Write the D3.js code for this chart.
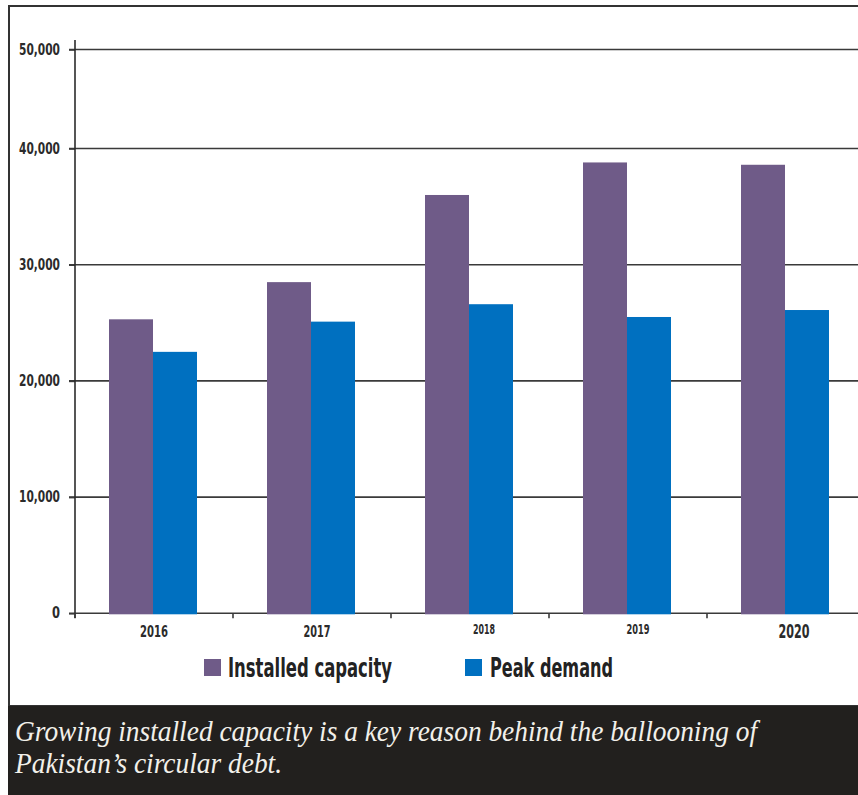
<!DOCTYPE html>
<html>
<head>
<meta charset="utf-8">
<script src="https://cdn.jsdelivr.net/npm/d3@7"></script>
<style>
  html, body { margin: 0; padding: 0; background: #ffffff; }
  svg { display: block; }
</style>
</head>
<body>
<svg id="chart" width="858" height="795"></svg>
<script>
// ---- data ----
const years = ["2016", "2017", "2018", "2019", "2020"];
const seriesNames = ["Installed capacity", "Peak demand"];
const installedCapacity = [25300, 28500, 36000, 38800, 38600];
const peakDemand = [22500, 25100, 26600, 25500, 26100];
const yTicks = [0, 10000, 20000, 30000, 40000, 50000];
const captionLines = [
  "Growing installed capacity is a key reason behind the ballooning of",
  "Pakistan\u2019s circular debt."
];

// ---- styles (kept apart from data) ----
const colors = { "Installed capacity": "#6f5b88", "Peak demand": "#0070c0" };
const yearLabelStyle = {
  "2016": { size: 16.5, dx: 0, w: 28 },
  "2017": { size: 16.5, dx: 5, w: 27 },
  "2018": { size: 13.5, dx: 14, w: 22 },
  "2019": { size: 13.5, dx: 10, w: 23 },
  "2020": { size: 19, dx: 8, w: 31 }
};
const condFont = "'DejaVu Sans Condensed', 'DejaVu Sans', sans-serif";

const svg = d3.select("#chart");

// frame
svg.append("rect").attr("x", 9).attr("y", 6).attr("width", 860).attr("height", 700)
  .attr("fill", "#fff").attr("stroke", "#333").attr("stroke-width", 2);

// scales
const x0 = d3.scaleBand().domain(years).range([75, 865]).padding(0);
const x1 = d3.scaleBand().domain(seriesNames).range([34, 122]).padding(0);
const y = d3.scaleLinear().domain([0, 40000, 50000]).range([613.3, 148.5, 49.5]);

// gridlines
const grid = svg.append("g");
grid.selectAll("line").data(yTicks).join("line")
  .attr("x1", 69).attr("x2", 858)
  .attr("y1", d => y(d)).attr("y2", d => y(d))
  .attr("stroke", "#3a3a3a").attr("stroke-width", 1.6);

// y axis
const yAxis = svg.append("g").attr("transform", "translate(75,0)")
  .call(d3.axisLeft(y).tickValues(yTicks).tickFormat(d3.format(",")).tickSize(6).tickPadding(9));
yAxis.select(".domain").remove();
yAxis.selectAll(".tick line").attr("stroke", "#3a3a3a").attr("stroke-width", 1.6);
yAxis.selectAll(".tick text")
  .attr("font-family", condFont).attr("font-weight", "bold").attr("font-size", 15)
  .attr("fill", "#2b2b2b").attr("dy", "0.3em")
  .each(function(d) {
    const t = d3.select(this);
    t.attr("textLength", d === 0 ? 8 : 41).attr("lengthAdjust", "spacingAndGlyphs");
  });
svg.append("line").attr("x1", 75).attr("x2", 75).attr("y1", 40).attr("y2", 618)
  .attr("stroke", "#2b2b2b").attr("stroke-width", 1.6);

// x axis ticks (band boundaries)
svg.append("g").selectAll("line").data(years).join("line")
  .attr("x1", d => x0(d)).attr("x2", d => x0(d))
  .attr("y1", y(0)).attr("y2", y(0) + 5)
  .attr("stroke", "#3a3a3a").attr("stroke-width", 1.6);

// bars
const groups = svg.append("g").selectAll("g").data(years).join("g")
  .attr("transform", d => `translate(${x0(d)},0)`);
groups.selectAll("rect")
  .data((d, i) => [
    { key: seriesNames[0], value: installedCapacity[i] },
    { key: seriesNames[1], value: peakDemand[i] }
  ])
  .join("rect")
  .attr("x", d => x1(d.key))
  .attr("width", x1.bandwidth())
  .attr("y", d => y(d.value))
  .attr("height", d => y(0) - y(d.value) + 1)
  .attr("fill", d => colors[d.key]);

// x labels
const xAxis = svg.append("g").attr("transform", `translate(0,${y(0)})`)
  .call(d3.axisBottom(x0).tickSize(0).tickPadding(0));
xAxis.select(".domain").remove();
xAxis.selectAll(".tick text")
  .attr("font-family", condFont).attr("font-weight", "bold")
  .attr("font-size", d => yearLabelStyle[d].size)
  .attr("fill", "#2b2b2b")
  .attr("dy", null)
  .attr("y", d => d === "2020" ? 25 : (yearLabelStyle[d].size > 15 ? 24 : 21))
  .attr("x", d => yearLabelStyle[d].dx)
  .attr("textLength", d => yearLabelStyle[d].w)
  .attr("lengthAdjust", "spacingAndGlyphs");

// legend
const legendItems = [
  { key: seriesNames[0], sx: 204, tx: 228, w: 164 },
  { key: seriesNames[1], sx: 465, tx: 490, w: 123 }
];
const legend = svg.append("g").selectAll("g").data(legendItems).join("g");
legend.append("rect").attr("x", d => d.sx).attr("y", 659).attr("width", 17).attr("height", 17)
  .attr("fill", d => colors[d.key]);
legend.append("text").attr("x", d => d.tx).attr("y", 677)
  .attr("font-family", condFont).attr("font-weight", "bold").attr("font-size", 27)
  .attr("fill", "#222").attr("textLength", d => d.w).attr("lengthAdjust", "spacingAndGlyphs")
  .text(d => d.key);

// caption
svg.append("rect").attr("x", 8).attr("y", 706).attr("width", 850).attr("height", 89).attr("fill", "#22201e");
const cap = svg.append("g").selectAll("text").data(captionLines).join("text")
  .attr("x", 15).attr("y", (d, i) => 741 + i * 32)
  .attr("font-family", "'Liberation Serif', 'DejaVu Serif', serif")
  .attr("font-style", "italic").attr("font-size", 28.5)
  .attr("fill", "#f2f0ea")
  .text(d => d);
const w0 = cap.nodes()[0].getComputedTextLength();
const factor = 742 / w0;
cap.each(function() {
  const w = this.getComputedTextLength();
  d3.select(this).attr("textLength", w * factor).attr("lengthAdjust", "spacingAndGlyphs");
});
</script>
</body>
</html>
